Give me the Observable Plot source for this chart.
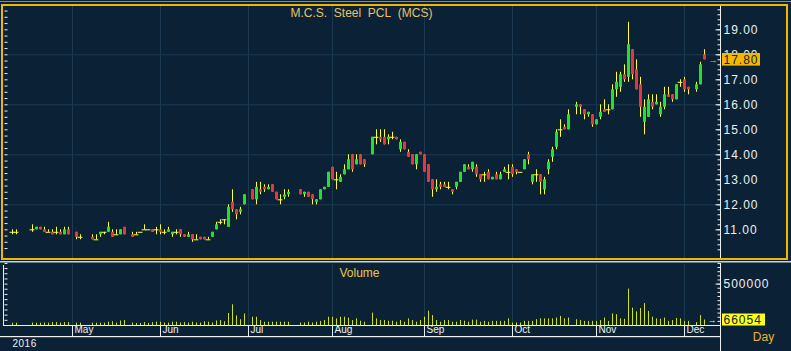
<!DOCTYPE html>
<html><head><meta charset="utf-8">
<script src="https://cdn.jsdelivr.net/npm/d3@7"></script>
<script src="https://cdn.jsdelivr.net/npm/@observablehq/plot@0.6"></script>
<style>
html,body{margin:0;padding:0;background:#0b2236;}
#wrap{position:relative;width:791px;height:351px;background:#0b2236;overflow:hidden;}
#wrap svg{position:absolute;left:0;}
</style></head><body><div id="wrap"></div>
<script>
// ---------- data ----------
const dates = ["2016-04-11","2016-04-12","2016-04-18","2016-04-19","2016-04-20","2016-04-21","2016-04-22","2016-04-25","2016-04-26","2016-04-27","2016-04-28","2016-04-29",
"2016-05-03","2016-05-04","2016-05-09","2016-05-10","2016-05-11","2016-05-12","2016-05-13","2016-05-16","2016-05-17","2016-05-18","2016-05-19","2016-05-23","2016-05-24","2016-05-25","2016-05-26","2016-05-27","2016-05-30","2016-05-31",
"2016-06-01","2016-06-02","2016-06-03","2016-06-06","2016-06-07","2016-06-08","2016-06-09","2016-06-10","2016-06-13","2016-06-14","2016-06-15","2016-06-16","2016-06-17","2016-06-20","2016-06-21","2016-06-22","2016-06-23","2016-06-24","2016-06-27","2016-06-28","2016-06-29","2016-06-30",
"2016-07-04","2016-07-05","2016-07-06","2016-07-07","2016-07-08","2016-07-11","2016-07-12","2016-07-13","2016-07-14","2016-07-15","2016-07-20","2016-07-21","2016-07-22","2016-07-25","2016-07-26","2016-07-27","2016-07-28","2016-07-29",
"2016-08-01","2016-08-02","2016-08-03","2016-08-04","2016-08-05","2016-08-08","2016-08-09","2016-08-10","2016-08-11","2016-08-15","2016-08-16","2016-08-17","2016-08-18","2016-08-19","2016-08-22","2016-08-23","2016-08-24","2016-08-25","2016-08-26","2016-08-29","2016-08-30","2016-08-31",
"2016-09-01","2016-09-02","2016-09-05","2016-09-06","2016-09-07","2016-09-08","2016-09-09","2016-09-12","2016-09-13","2016-09-14","2016-09-15","2016-09-16","2016-09-19","2016-09-20","2016-09-21","2016-09-22","2016-09-23","2016-09-26","2016-09-27","2016-09-28","2016-09-29","2016-09-30",
"2016-10-03","2016-10-04","2016-10-05","2016-10-06","2016-10-07","2016-10-10","2016-10-11","2016-10-12","2016-10-13","2016-10-14","2016-10-17","2016-10-18","2016-10-19","2016-10-20","2016-10-21","2016-10-25","2016-10-26","2016-10-27","2016-10-28","2016-10-31",
"2016-11-01","2016-11-02","2016-11-03","2016-11-04","2016-11-07","2016-11-08","2016-11-09","2016-11-10","2016-11-11","2016-11-14","2016-11-15","2016-11-16","2016-11-17","2016-11-18","2016-11-21","2016-11-22","2016-11-23","2016-11-24","2016-11-25","2016-11-28","2016-11-29","2016-11-30",
"2016-12-01","2016-12-02","2016-12-06","2016-12-07","2016-12-08"];

const open = [10.9,10.9,11.0,11.0,11.1,11.0,10.9,10.9,10.9,10.9,10.8,11.0,
10.9,10.7,10.7,10.6,10.8,10.9,10.9,10.9,10.8,10.8,11.1,10.8,10.8,10.9,11.0,11.0,11.0,11.0,
11.0,10.9,10.9,10.8,10.9,11.0,10.8,10.7,10.8,10.6,10.7,10.7,10.6,10.7,11.0,11.3,11.4,11.1,12.1,11.8,11.7,12.0,
12.6,12.2,12.6,12.7,12.6,12.8,12.5,12.2,12.3,12.4,12.6,12.4,12.5,12.4,12.1,12.2,12.6,12.7,
13.5,13.0,12.9,13.2,13.4,14.0,13.6,14.0,13.8,14.0,14.7,14.7,14.7,14.6,14.7,14.7,14.2,14.5,14.1,14.0,13.6,14.1,
14.0,13.6,13.0,12.6,12.8,12.8,12.7,12.6,12.7,12.9,13.3,13.5,13.4,13.5,13.2,13.2,13.3,13.0,13.2,13.0,13.3,13.3,
13.5,13.4,13.3,13.4,14.0,12.9,13.2,13.2,12.6,13.4,13.9,14.3,15.0,15.1,15.0,15.9,16.0,15.8,15.6,15.6,
15.2,15.5,15.8,15.8,15.8,16.6,16.7,17.2,17.1,18.2,17.4,16.8,15.3,15.5,16.1,16.0,15.6,15.9,16.4,16.4,16.2,16.9,
17.0,16.7,16.6,16.8,18.0];

const high = [11.0,11.0,11.2,11.1,11.1,11.1,11.0,11.0,11.1,11.0,11.1,11.1,
10.9,10.8,10.8,10.8,10.9,10.9,11.3,11.0,11.0,11.0,11.1,10.9,10.9,10.9,11.2,11.0,11.0,11.1,
11.2,11.0,11.1,10.9,11.0,11.0,10.8,10.9,10.8,10.8,10.7,10.7,10.7,10.9,11.3,11.4,11.4,12.0,12.6,11.8,11.9,12.4,
12.6,12.9,12.9,12.8,12.8,12.8,12.5,12.4,12.6,12.6,12.6,12.5,12.5,12.4,12.2,12.6,12.7,13.3,
13.5,13.3,13.2,13.6,14.0,14.0,14.0,14.0,13.8,14.7,15.0,15.0,15.0,14.8,14.9,14.7,14.6,14.5,14.2,14.0,14.0,14.1,
14.0,13.6,13.0,13.0,12.9,12.9,12.9,12.6,12.9,13.3,13.6,13.6,13.7,13.6,13.2,13.3,13.4,13.1,13.3,13.3,13.5,13.6,
13.6,13.4,13.3,13.8,14.1,13.2,13.4,13.2,13.1,13.8,14.3,15.0,15.4,15.2,15.8,16.1,16.0,15.8,15.7,15.6,
15.4,16.0,16.2,16.0,16.8,17.3,17.3,17.6,19.3,18.2,17.8,17.1,16.2,16.4,16.4,16.4,16.1,16.7,16.7,16.4,16.8,17.0,
17.1,16.7,16.9,17.7,18.2];

const low = [10.8,10.8,10.9,11.0,11.0,10.9,10.9,10.8,10.8,10.8,10.8,10.8,
10.6,10.6,10.6,10.6,10.7,10.8,10.9,10.7,10.8,10.8,10.8,10.7,10.8,10.9,11.0,11.0,10.9,10.8,
10.8,10.8,10.9,10.7,10.8,10.7,10.7,10.7,10.5,10.6,10.6,10.6,10.6,10.7,11.0,11.2,11.2,11.1,11.7,11.4,11.6,12.0,
12.2,12.0,12.4,12.5,12.6,12.5,12.2,12.0,12.2,12.3,12.4,12.3,12.3,12.0,12.0,12.2,12.6,12.7,
13.0,12.6,12.9,13.2,13.4,13.3,13.6,13.6,13.5,14.0,14.4,14.5,14.4,14.4,14.6,14.6,14.1,14.2,13.9,13.6,13.4,14.0,
13.3,12.9,12.3,12.5,12.6,12.7,12.6,12.4,12.6,12.9,13.3,13.4,13.3,13.1,12.9,12.9,13.0,13.0,13.0,13.0,13.3,13.0,
13.1,13.2,13.3,13.4,13.6,12.8,12.9,12.4,12.4,13.2,13.7,14.2,14.7,15.0,15.0,15.6,15.6,15.4,15.5,15.1,
15.2,15.4,15.7,15.6,15.8,16.3,16.5,16.9,16.9,17.0,16.6,15.5,14.8,15.5,15.8,16.0,15.5,15.8,16.3,16.1,16.2,16.7,
16.5,16.4,16.5,16.8,17.8];

const close = [10.9,10.9,11.0,11.1,11.0,10.9,10.9,10.8,10.9,10.8,11.0,10.8,
10.7,10.7,10.6,10.6,10.9,10.9,11.1,10.7,10.8,11.0,10.8,10.7,10.8,10.9,11.0,11.0,10.9,11.0,
10.9,10.9,11.0,10.9,10.9,10.8,10.7,10.8,10.6,10.6,10.6,10.6,10.6,10.9,11.2,11.3,11.4,11.9,11.8,11.6,11.8,12.4,
12.2,12.7,12.5,12.6,12.7,12.5,12.2,12.2,12.4,12.5,12.4,12.5,12.3,12.2,12.2,12.6,12.7,13.3,
13.0,13.0,13.1,13.4,13.8,13.4,13.8,13.6,13.6,14.7,14.7,14.6,14.4,14.7,14.7,14.6,14.5,14.2,13.9,13.6,14.0,14.0,
13.3,12.9,12.6,12.7,12.7,12.7,12.7,12.5,12.9,13.3,13.6,13.4,13.7,13.2,13.0,13.2,13.0,13.1,13.0,13.2,13.4,13.3,
13.2,13.3,13.3,13.8,13.8,13.2,13.2,12.9,13.0,13.7,14.2,14.9,15.0,15.0,15.6,16.0,15.9,15.6,15.7,15.2,
15.4,15.7,15.7,15.8,16.6,16.9,17.2,17.0,18.4,17.2,16.6,15.9,15.9,16.2,15.9,16.1,15.9,16.4,16.3,16.2,16.8,16.9,
16.6,16.6,16.8,17.6,17.8];

const volume = [28000,28000,30000,28000,28000,30000,28000,35000,35000,28000,35000,35000,
28000,28000,28000,28000,28000,28000,40000,45000,28000,55000,60000,30000,25000,25000,35000,25000,35000,40000,
40000,30000,30000,40000,40000,30000,35000,30000,40000,30000,30000,45000,40000,30000,55000,60000,45000,145000,250000,115000,70000,140000,
100000,100000,60000,40000,40000,40000,40000,40000,40000,40000,30000,30000,40000,30000,40000,50000,60000,100000,
100000,80000,100000,100000,90000,60000,80000,52000,40000,150000,80000,60000,60000,52000,52000,40000,60000,40000,80000,60000,40000,60000,
100000,173000,120000,60000,40000,60000,60000,40000,40000,60000,52000,40000,65000,65000,40000,50000,40000,50000,50000,50000,50000,80000,
30000,30000,30000,50000,50000,50000,70000,80000,80000,80000,80000,90000,110000,80000,90000,70000,60000,50000,50000,50000,
50000,60000,90000,50000,140000,130000,80000,75000,440000,210000,165000,205000,265000,170000,100000,80000,75000,90000,50000,60000,85000,80000,
50000,50000,35000,120000,66054];

const monthStarts = ["2016-05-02","2016-06-01","2016-07-01","2016-08-01","2016-09-01","2016-10-03","2016-11-01","2016-12-01"];
const monthLabels = ["May","Jun","Jul","Aug","Sep","Oct","Nov","Dec"];
const priceTicks = [11,12,13,14,15,16,17,18,19];
const gridPrices = [12,14,16,18];
const volumeTicks = [500000];
const titleText = "M.C.S.  Steel  PCL  (MCS)";
const panelText = "Volume";
const periodText = "Day";
const yearText = "2016";

// ---------- helpers ----------
const day0 = Date.UTC(2016, 3, 11);
function wdIndex(s) {
  const d = Date.parse(s + "T00:00:00Z");
  const days = Math.round((d - day0) / 864e5);
  return Math.floor(days / 7) * 5 + Math.min(days % 7, 5);
}
const data = dates.map((d, k) => ({i: wdIndex(d), o: open[k], h: high[k], l: low[k], c: close[k], v: volume[k]}));
const monthIdx = monthStarts.map(wdIndex);
const monthData = monthStarts.map((d, k) => ({i: wdIndex(d), label: monthLabels[k]}));
const lastIdx = d3.max(data, d => d.i);

const W = 791;
const bg = "#0b2236", grid = "#1b3a51", wick = "#ffff3a", up = "#22e12a", down = "#e8343c", volColor = "#cde11c";
const axisWhite = "#eef0f0";
const font = "'Liberation Sans', Arial, sans-serif";
const xScale = {type: "linear", domain: [0, lastIdx], range: [12, 704], axis: null};

// ---------- price panel ----------
const price = Plot.plot({
  width: W, height: 262,
  marginTop: 6, marginBottom: 4, marginLeft: 4, marginRight: 71,
  style: {background: "transparent", color: axisWhite, fontFamily: font, fontSize: "12px", letterSpacing: "1px", overflow: "visible"},
  x: xScale,
  y: {type: "linear", domain: [10, 20], range: [254.3, 4.3], axis: null},
  marks: [
    Plot.ruleX(monthIdx, {stroke: grid}),
    Plot.ruleY(gridPrices, {stroke: grid}),
    Plot.ruleX(data, {x: "i", y1: "l", y2: "h", stroke: wick}),
    Plot.ruleX(data.filter(d => d.c > d.o), {x: "i", y1: "o", y2: "c", stroke: up, strokeWidth: 3}),
    Plot.ruleX(data.filter(d => d.c < d.o), {x: "i", y1: "o", y2: "c", stroke: down, strokeWidth: 3}),
    Plot.ruleY(data.filter(d => d.c === d.o), {y: "c", x1: d => d.i - 0.6, x2: d => d.i + 0.6, stroke: wick}),
    Plot.axisY({anchor: "right", ticks: d3.range(10.2, 20.01, 0.2), tickSize: 3, insetRight: 3.5, tickFormat: () => "", stroke: axisWhite, label: null}),
    Plot.axisY({anchor: "right", ticks: priceTicks, tickSize: 5, insetRight: 5.5, tickFormat: () => "", stroke: axisWhite, label: null}),
    Plot.axisY({anchor: "left", ticks: d3.range(10.25, 20.01, 0.25), tickSize: 3, insetLeft: 3.5, tickFormat: () => "", stroke: axisWhite, label: null}),
    Plot.axisY({anchor: "right", ticks: priceTicks, tickSize: 0, tickPadding: 3, tickFormat: d => d.toFixed(2), fill: axisWhite, fontSize: 12, label: null})
  ]
});
price.style.top = "0px";

// ---------- volume panel ----------
const vBase = 63, vPer = 41.4 / 500000;
const vol = Plot.plot({
  width: W, height: 89,
  marginTop: 2, marginBottom: 89 - vBase, marginLeft: 4, marginRight: 71,
  style: {background: "transparent", color: axisWhite, fontFamily: font, fontSize: "12px", letterSpacing: "1px", overflow: "visible"},
  x: xScale,
  y: {type: "linear", domain: [0, 750000], range: [vBase, vBase - 750000 * vPer], axis: null},
  marks: [
    Plot.ruleX(monthIdx, {stroke: grid}),
    Plot.ruleX(data, {x: "i", y1: 0, y2: "v", stroke: volColor}),
    Plot.ruleY([0], {stroke: axisWhite}),
    Plot.axisY({anchor: "right", ticks: d3.range(50000, 750001, 50000), tickSize: 3, insetRight: 3.5, tickFormat: () => "", stroke: axisWhite, label: null}),
    Plot.axisY({anchor: "right", ticks: volumeTicks, tickSize: 5, insetRight: 5.5, tickFormat: () => "", stroke: axisWhite, label: null}),
    Plot.axisY({anchor: "left", ticks: d3.range(62500, 750001, 62500), tickSize: 3, insetLeft: 3.5, tickFormat: () => "", stroke: axisWhite, label: null}),
    Plot.axisY({anchor: "right", ticks: volumeTicks, tickSize: 0, tickPadding: 3, tickFormat: d => String(d), fill: axisWhite, fontSize: 12, label: null}),
    Plot.axisX({anchor: "bottom", ticks: monthIdx, tickSize: 11, tickFormat: () => "", stroke: axisWhite, label: null}),
    Plot.text(monthData, {x: "i", text: "label", frameAnchor: "bottom", dy: 7, dx: 2, textAnchor: "start", fill: axisWhite, fontSize: 10})
  ]
});
vol.style.top = "262px";
d3.select(vol).selectAll('g[aria-label="text"] text').style("letter-spacing", "0px");

// ---------- overlay (frame, lines, labels) ----------
const ov = d3.create("svg").attr("width", W).attr("height", 351)
  .style("top", "0px").style("font-family", font);
ov.append("rect").attr("x", 0).attr("y", 1).attr("width", W).attr("height", 1).attr("fill", "#7f8d98");
ov.append("rect").attr("x", 2).attr("y", 5).attr("width", 785).attr("height", 254)
  .attr("fill", "none").attr("stroke", "#f2b600").attr("stroke-width", 2);
ov.append("rect").attr("x", 0).attr("y", 261).attr("width", W).attr("height", 1.5).attr("fill", "#cfd3d6");
ov.append("rect").attr("x", 720).attr("y", 6).attr("width", 1).attr("height", 252).attr("fill", axisWhite);
ov.append("rect").attr("x", 720).attr("y", 263).attr("width", 1).attr("height", 88).attr("fill", axisWhite);
ov.append("rect").attr("x", 3).attr("y", 265).attr("width", 1).attr("height", 61).attr("fill", axisWhite);
ov.append("rect").attr("x", 0).attr("y", 336).attr("width", 721).attr("height", 1.2).attr("fill", axisWhite);

ov.append("text").attr("x", 361.5).attr("y", 16.7).attr("text-anchor", "middle")
  .attr("fill", "#e6c36a").attr("font-size", 12).text(titleText.replace(/ /g, "\u00a0"));
ov.append("text").attr("x", 359.5).attr("y", 276.7).attr("text-anchor", "middle")
  .attr("fill", "#e8c84a").attr("font-size", 12).text(panelText);
ov.append("text").attr("x", 763.5).attr("y", 340.6).attr("text-anchor", "middle")
  .attr("fill", "#efb42e").attr("font-size", 12).text(periodText);
ov.append("text").attr("x", 12.5).attr("y", 347).attr("fill", axisWhite).attr("font-size", 10)
  .style("letter-spacing", "0.5px").text(yearText);

// last price tag
const last = data[data.length - 1];
const py = price.scale("y").apply(last.c);
ov.append("rect").attr("x", 722).attr("y", py - 6.3).attr("width", 38).attr("height", 12.6).attr("fill", "#f4b800");
ov.append("text").attr("x", 723.5).attr("y", py + 4.3).attr("fill", bg).attr("font-size", 12)
  .style("letter-spacing", "1px").text(last.c.toFixed(2));
ov.append("text").attr("x", 713).attr("y", py + 3.5).attr("text-anchor", "middle").attr("fill", "#f4b800")
  .attr("font-size", 9).text("\u2192");

// last volume tag
const vy = 262 + vol.scale("y").apply(last.v);
ov.append("rect").attr("x", 722).attr("y", vy - 6).attr("width", 43).attr("height", 12).attr("fill", "#ffff1e");
ov.append("text").attr("x", 723.5).attr("y", vy + 4.3).attr("fill", bg).attr("font-size", 12)
  .style("letter-spacing", "1px").text(String(last.v));
ov.append("text").attr("x", 712).attr("y", vy + 3.5).attr("text-anchor", "middle").attr("fill", "#ffff1e")
  .attr("font-size", 9).text("\u2192");

const wrap = document.getElementById("wrap");
wrap.append(price, vol, ov.node());
</script>
</body></html>
